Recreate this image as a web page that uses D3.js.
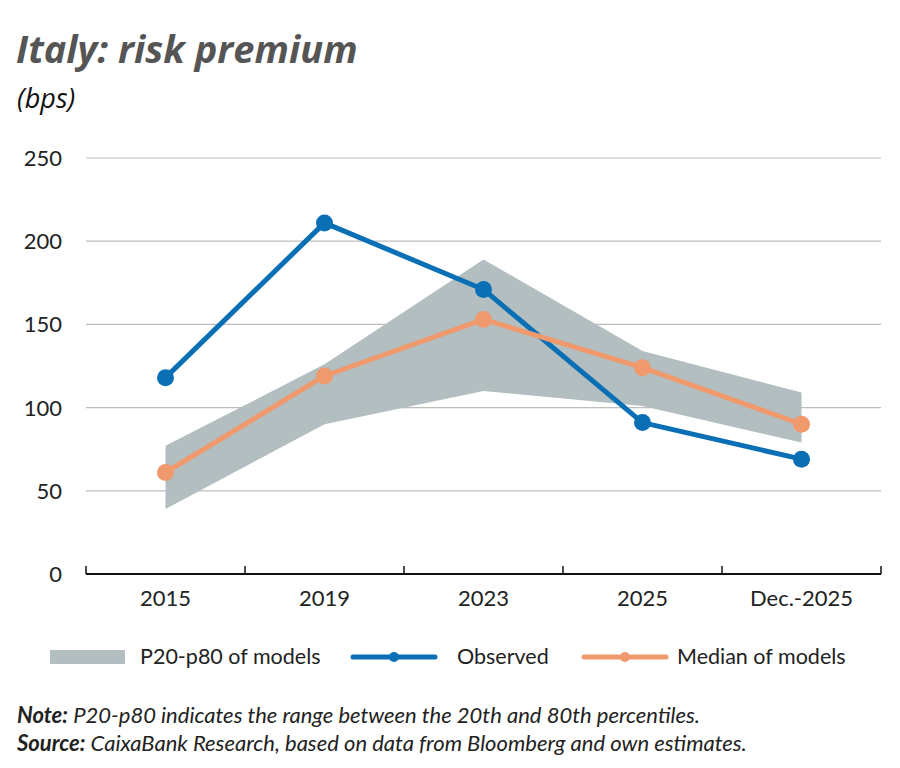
<!DOCTYPE html>
<html>
<head>
<meta charset="utf-8">
<script src="https://cdn.jsdelivr.net/npm/d3@7"></script>
<style>
  body { margin: 0; background: #fff; }
  svg text { font-family: Lato, "Open Sans", sans-serif; }
</style>
</head>
<body>
<div id="chart"></div>
<script>
// chart values
var categories = ['2015', '2019', '2023', '2025', 'Dec.-2025'];
var observed = [118, 211, 171, 91, 69];
var median = [61, 119, 153, 124, 90];
var p20 = [39, 90, 110, 101, 79];
var p80 = [77, 126, 189, 134, 109];
var yTicks = [0, 50, 100, 150, 200, 250];

var width = 900, height = 768;
var margin = { top: 158, right: 19, bottom: 194, left: 86 };

var svg = d3.select('#chart').append('svg')
  .attr('width', width)
  .attr('height', height);

var x = d3.scaleBand()
  .domain(categories)
  .range([margin.left, width - margin.right]);

var y = d3.scaleLinear()
  .domain([0, 250])
  .range([height - margin.bottom, margin.top]);

var cx = function(d, i) { return x(categories[i]) + x.bandwidth() / 2; };

// title
svg.append('text')
  .attr('x', 16).attr('y', 63)
  .style('font-family', '"Open Sans", sans-serif')
  .style('font-size', '38px')
  .style('font-weight', 'bold')
  .style('font-style', 'italic')
  .attr('fill', '#555')
  .text('Italy: risk premium');

svg.append('text')
  .attr('x', 17).attr('y', 108)
  .style('font-family', '"Open Sans", sans-serif')
  .style('font-size', '27px')
  .style('font-style', 'italic')
  .attr('fill', '#111')
  .text('(bps)');

// grid
svg.append('g')
  .selectAll('line')
  .data(yTicks.slice(1))
  .enter().append('line')
  .attr('x1', margin.left).attr('x2', width - margin.right)
  .attr('y1', d => y(d)).attr('y2', d => y(d))
  .attr('stroke', '#bdbdbd')
  .attr('stroke-width', 1.2);

svg.append('g')
  .selectAll('text')
  .data(yTicks)
  .enter().append('text')
  .attr('x', 62)
  .attr('y', d => y(d) + 8)
  .attr('text-anchor', 'end')
  .style('font-size', '22px')
  .attr('fill', '#222')
  .text(d => d);

// band
var area = d3.area()
  .x(cx)
  .y0(d => y(d[0]))
  .y1(d => y(d[1]));

svg.append('path')
  .datum(d3.zip(p20, p80))
  .attr('d', area)
  .attr('fill', '#b2bec0');

// x axis
var xAxis = d3.axisBottom(x).tickSize(0).tickPadding(16);
var gx = svg.append('g')
  .attr('transform', 'translate(0,' + (height - margin.bottom) + ')')
  .call(xAxis);
gx.select('.domain').remove();
gx.selectAll('text')
  .style('font-size', '22px')
  .style('font-family', 'Lato, "Open Sans", sans-serif')
  .attr('fill', '#222');

svg.append('line')
  .attr('x1', margin.left).attr('x2', width - margin.right)
  .attr('y1', y(0)).attr('y2', y(0))
  .attr('stroke', '#111').attr('stroke-width', 2);

var bounds = categories.map(c => x(c)).concat([width - margin.right]);
svg.append('g')
  .selectAll('line')
  .data(bounds)
  .enter().append('line')
  .attr('x1', d => d).attr('x2', d => d)
  .attr('y1', y(0)).attr('y2', y(0) - 8)
  .attr('stroke', '#111').attr('stroke-width', 1.5);

// lines
var line = d3.line().x(cx).y(d => y(d));

function drawSeries(values, color) {
  svg.append('path')
    .datum(values)
    .attr('d', line)
    .attr('fill', 'none')
    .attr('stroke', color)
    .attr('stroke-width', 5)
    .attr('stroke-linejoin', 'round');
  svg.append('g')
    .selectAll('circle')
    .data(values)
    .enter().append('circle')
    .attr('cx', cx)
    .attr('cy', d => y(d))
    .attr('r', 8.5)
    .attr('fill', color);
}

drawSeries(observed, '#0a6fb5');
drawSeries(median, '#f0996c');

// legend
var leg = svg.append('g').attr('transform', 'translate(0,657)');
leg.append('rect')
  .attr('x', 50).attr('y', -7).attr('width', 75).attr('height', 14)
  .attr('fill', '#b2bec0');
leg.append('text').attr('x', 140).attr('y', 7)
  .style('font-size', '21.5px').attr('fill', '#222')
  .text('P20-p80 of models');

var legLines = [
  { x: 353, tx: 457, color: '#0a6fb5', label: 'Observed' },
  { x: 584, tx: 677, color: '#f0996c', label: 'Median of models' }
];
legLines.forEach(function(d) {
  leg.append('line')
    .attr('x1', d.x).attr('x2', d.x + 82)
    .attr('y1', 0).attr('y2', 0)
    .attr('stroke', d.color).attr('stroke-width', 5)
    .attr('stroke-linecap', 'round');
  leg.append('circle')
    .attr('cx', d.x + 41).attr('cy', 0).attr('r', 5)
    .attr('fill', d.color);
  leg.append('text').attr('x', d.tx).attr('y', 7)
    .style('font-size', '21.5px').attr('fill', '#222')
    .text(d.label);
});

// notes
var notes = [
  { y: 723, bold: 'Note:', rest: ' P20-p80 indicates the range between the 20th and 80th percentiles.' },
  { y: 751, bold: 'Source:', rest: ' CaixaBank Research, based on data from Bloomberg and own estimates.' }
];
notes.forEach(function(n) {
  var t = svg.append('text')
    .attr('x', 17).attr('y', n.y)
    .style('font-size', '22px')
    .style('font-style', 'italic')
    .attr('fill', '#222');
  t.append('tspan').style('font-weight', 'bold').text(n.bold);
  t.append('tspan').text(n.rest);
});
</script>
</body>
</html>
